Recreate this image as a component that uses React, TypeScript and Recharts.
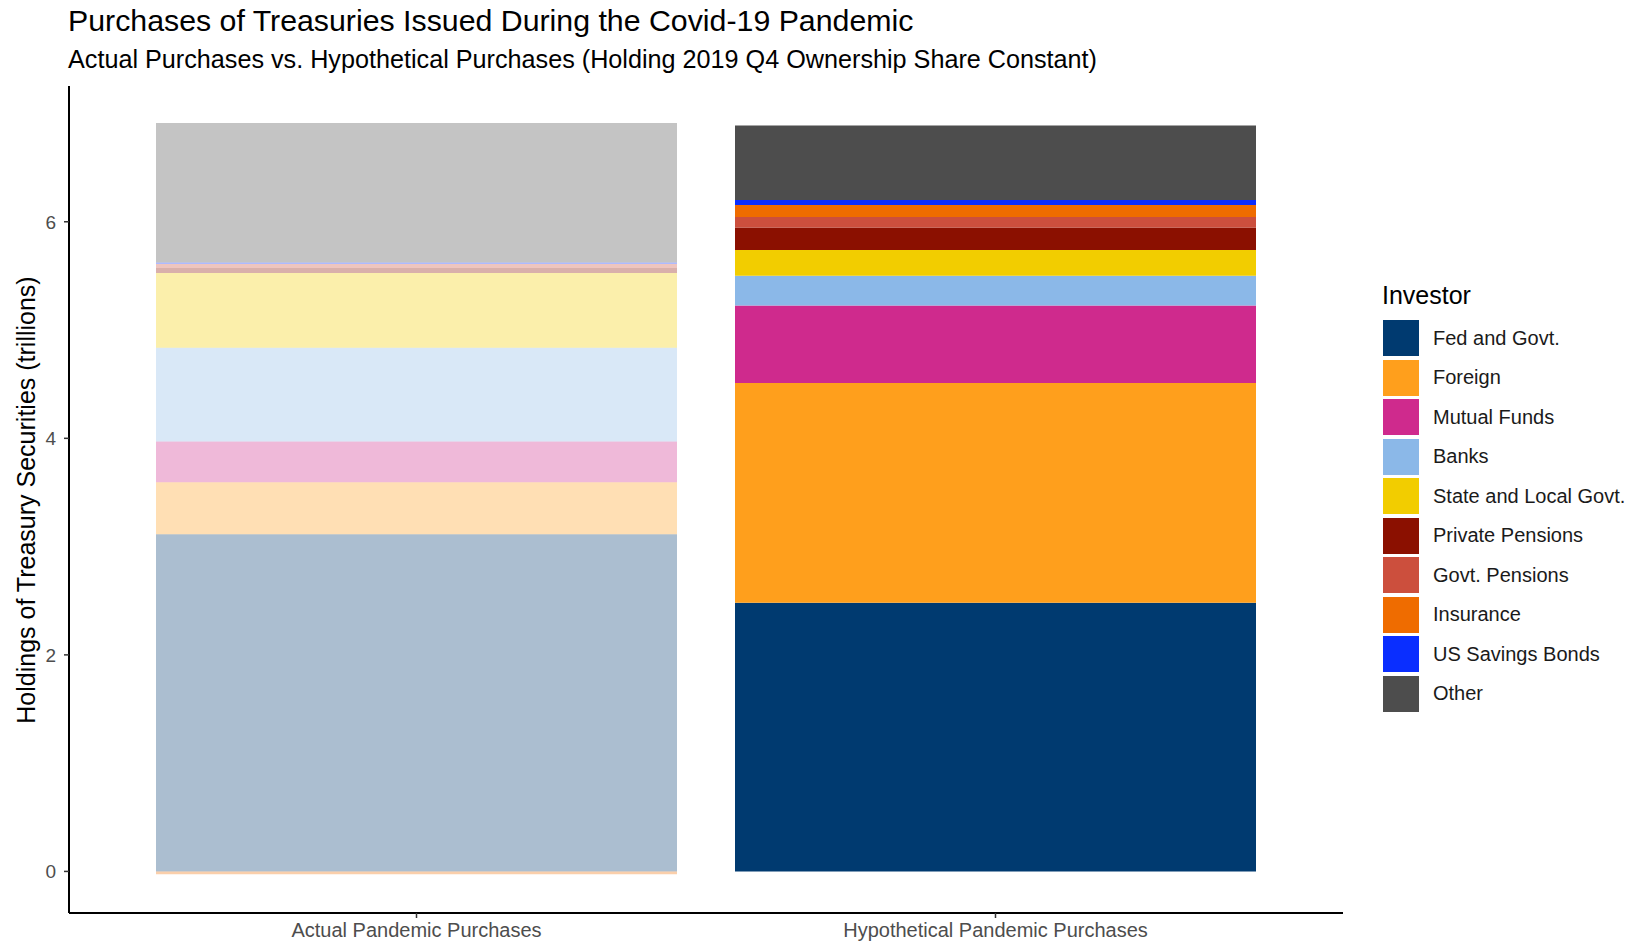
import React from 'react';
import { BarChart, Bar, XAxis, YAxis, Cell } from 'recharts';

const categories = ['Actual Pandemic Purchases', 'Hypothetical Pandemic Purchases'];

const investors = [
  'Fed and Govt.',
  'Foreign',
  'Mutual Funds',
  'Banks',
  'State and Local Govt.',
  'Private Pensions',
  'Govt. Pensions',
  'Insurance',
  'US Savings Bonds',
  'Other',
];

const investorColors = [
  '#003a70', '#ff9f1c', '#cf2a8d', '#8bb8e8', '#f2cd00',
  '#8b1000', '#cc4f3d', '#ef6c00', '#0a2eff', '#4d4d4d',
];

// trillions, in the same order as investors
const actualValues = [3.115, 0.48, 0.375, 0.866, 0.692, 0.046, 0.037, -0.025, 0.014, 1.287];
const hypotheticalValues = [2.481, 2.029, 0.716, 0.276, 0.238, 0.206, 0.099, 0.111, 0.046, 0.687];

const yTicks = [0, 2, 4, 6];

const seriesValues = [actualValues, hypotheticalValues];
const data = categories.map((category, i) => {
  const row: Record<string, string | number> = { category };
  investors.forEach((name, j) => {
    row[name] = seriesValues[i][j];
  });
  return row;
});

const FONT = '"Liberation Sans", Arial, Helvetica, sans-serif';

const InvestorLegend = () => (
  <div style={{ position: 'absolute', left: 1382, top: 281, fontFamily: FONT }}>
    <div style={{ fontSize: 25, lineHeight: '29px', color: '#000', marginBottom: 8.5 }}>Investor</div>
    {investors.map((name, i) => (
      <div key={name} style={{ display: 'flex', alignItems: 'center', height: 39.5 }}>
        <div
          style={{
            width: 36,
            height: 36,
            background: investorColors[i],
            marginLeft: 1,
          }}
        />
        <span style={{ marginLeft: 14, fontSize: 20, color: '#1a1a1a' }}>{name}</span>
      </div>
    ))}
  </div>
);

const App: React.FC = () => {
  return (
    <div
      style={{
        position: 'absolute',
        left: 0,
        top: 0,
        width: 1632,
        height: 943,
        background: '#fff',
        fontFamily: FONT,
      }}
    >
      <div style={{ position: 'absolute', left: 68, top: 3.5, fontSize: 30.3, lineHeight: '34px', color: '#000', whiteSpace: 'nowrap' }}>
        Purchases of Treasuries Issued During the Covid-19 Pandemic
      </div>
      <div style={{ position: 'absolute', left: 68, top: 45, fontSize: 25.2, lineHeight: '29px', color: '#000', whiteSpace: 'nowrap' }}>
        Actual Purchases vs. Hypothetical Purchases (Holding 2019 Q4 Ownership Share Constant)
      </div>
      <div
        style={{
          position: 'absolute',
          left: 26,
          top: 500,
          transform: 'translate(-50%, -50%) rotate(-90deg)',
          fontSize: 25,
          color: '#000',
          whiteSpace: 'nowrap',
        }}
      >
        Holdings of Treasury Securities (trillions)
      </div>

      <div style={{ position: 'absolute', left: 0, top: 0 }}>
        <BarChart
          width={1632}
          height={943}
          data={data}
          margin={{ top: 86, right: 289, bottom: 0, left: 0 }}
          barSize={521}
          stackOffset="sign"
        >
          <XAxis
            dataKey="category"
            type="category"
            height={30}
            padding={{ left: 58, right: 58 }}
            axisLine={{ stroke: '#000', strokeWidth: 2 }}
            tickLine={{ stroke: '#333', strokeWidth: 1.5 }}
            tickSize={5}
            tickMargin={5}
            tick={{ fill: '#4d4d4d', fontSize: 20, fontFamily: FONT }}
          />
          <YAxis
            type="number"
            width={69}
            domain={[-0.384, 7.254]}
            ticks={yTicks}
            allowDataOverflow
            axisLine={{ stroke: '#000', strokeWidth: 2 }}
            tickLine={{ stroke: '#333', strokeWidth: 1.5 }}
            tickSize={5}
            tickMargin={8}
            tick={{ fill: '#4d4d4d', fontSize: 19, fontFamily: FONT }}
          />
          {investors.map((name, j) => (
            <Bar key={name} dataKey={name} stackId="a" isAnimationActive={false}>
              {data.map((row, i) => (
                <Cell
                  key={`cell-${i}`}
                  fill={investorColors[j]}
                  fillOpacity={i === 0 ? 0.33 : 1}
                />
              ))}
            </Bar>
          ))}
        </BarChart>
      </div>

      <InvestorLegend />
    </div>
  );
};

export default App;
